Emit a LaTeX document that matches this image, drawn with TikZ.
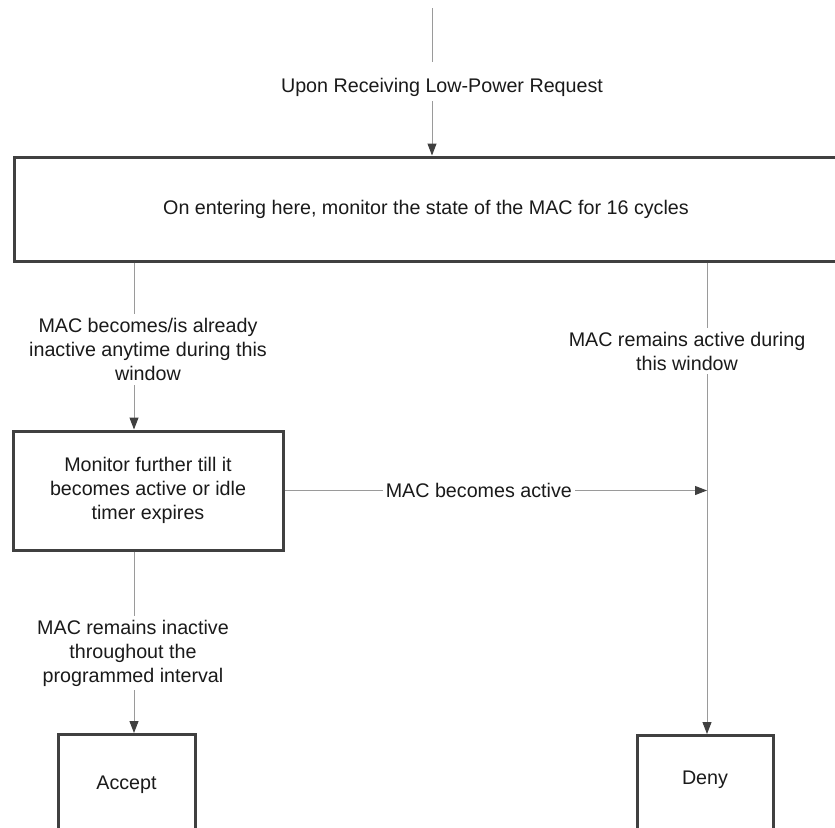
\documentclass[tikz,border=0pt]{standalone}
\usepackage{fontspec}
\setmainfont{Liberation Sans}
\usetikzlibrary{arrows.meta}
\definecolor{edge}{HTML}{404040}
\definecolor{wire}{HTML}{9A9A9A}
\definecolor{ink}{HTML}{1A1A1A}
\begin{document}
\begin{tikzpicture}[x=1pt,y=-1pt,
  every node/.style={font=\fontsize{19.7}{24}\selectfont, text=ink},
  state/.style={draw=edge, line width=3pt, fill=white, align=center, inner sep=0pt},
  conn/.style={draw=wire, line width=1pt, -{Triangle[length=12pt,width=9pt,color=edge]}},
  tag/.style={fill=white, align=center, inner xsep=3pt, inner ysep=4pt}]
\useasboundingbox (0,0) rectangle (835,827);
\clip (0,0) rectangle (835,827);

% reference columns and the entry point
\coordinate (src) at (432,8);
\coordinate (colL) at (134,0);
\coordinate (colR) at (707,0);

% states
\node[state, minimum width=824pt, minimum height=104pt] (watch) at (426,209)
  {On entering here, monitor the state of the MAC for 16 cycles};
\node[state, minimum width=270pt, minimum height=119pt] (hold) at (148,490.5)
  {Monitor further till it\\becomes active or idle\\timer expires};
\node[state, minimum width=137pt, minimum height=100pt, anchor=north] (accept) at (126.5,733)
  {\raisebox{2pt}{Accept}};
\node[state, minimum width=136pt, minimum height=100pt, anchor=north] (deny) at (705,734)
  {\raisebox{15pt}{Deny}};

% transitions
\draw[conn] (src) -- node[tag, pos=0.5, xshift=10pt, text height=26pt, text depth=5pt]
  {Upon Receiving Low-Power Request} (watch.north -| src);
\draw[conn] (watch.south -| colL) -- node[tag, pos=0.52, xshift=14pt]
  {MAC becomes/is already\\inactive anytime during this\\window} (hold.north -| colL);
\draw[conn] (watch.south -| colR) -- node[tag, pos=0.188, xshift=-20pt]
  {MAC remains active during\\this window} (deny.north -| colR);
\draw[conn] (hold.east) -- node[tag, pos=0.46, inner ysep=2pt]
  {MAC becomes active} (hold.east -| colR);
\draw[conn] (hold.south -| colL) -- node[tag, pos=0.56, xshift=-1pt]
  {MAC remains inactive\\throughout the\\programmed interval} (accept.north -| colL);
\end{tikzpicture}
\end{document}
